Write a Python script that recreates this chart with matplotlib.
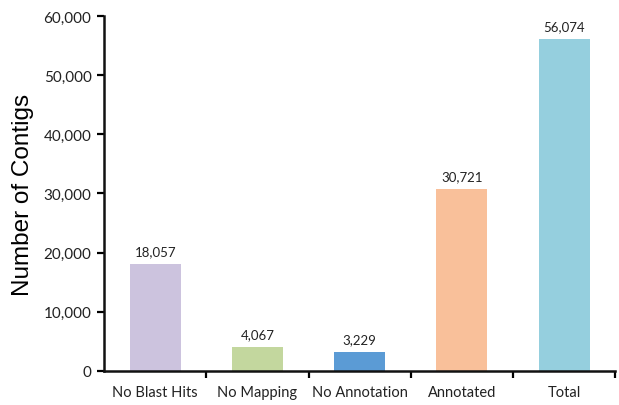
import numpy as np
import matplotlib.pyplot as plt

categories = ['No Blast Hits', 'No Mapping', 'No Annotation', 'Annotated', 'Total']
counts = [18057, 4067, 3229, 30721, 56074]
colors = ['#ccc3de', '#c3d79e', '#5b9bd5', '#f9c09a', '#95cfde']

fig = plt.figure(figsize=(6.19, 4.06), dpi=100)
ax = fig.add_axes([0.168, 0.084, 0.826, 0.874])

x = np.arange(len(categories))
ax.bar(x, counts, width=0.5, color=colors)

for xi, v in zip(x, counts):
    ax.text(xi, v + 1200, f'{v:,}', ha='center', va='bottom',
            fontsize=9.5, family='Lato', color='#222222')

ax.set_xlim(-0.5, len(categories) - 0.5)
ax.set_ylim(0, 60000)
ax.set_yticks(np.arange(0, 60001, 10000))
ax.set_yticklabels([f'{t:,}' for t in range(0, 60001, 10000)],
                   fontsize=11, family='Lato', color='#222222')

# category ticks sit between the bars
ax.set_xticks(np.arange(0.5, len(categories), 1.0))
ax.set_xticklabels([])
ax.set_xticks(x, minor=True)
ax.set_xticklabels(categories, minor=True, fontsize=10.5, family='Lato', color='#222222')
ax.tick_params(axis='x', which='minor', length=0, pad=10)
ax.tick_params(axis='x', which='major', length=5, width=1.6, direction='out')
ax.tick_params(axis='y', length=5, width=1.6, direction='out', pad=4)

ax.set_ylabel('Number of Contigs', fontsize=17.5, family='Liberation Sans', labelpad=7)

for s in ['top', 'right']:
    ax.spines[s].set_visible(False)
for s in ['left', 'bottom']:
    ax.spines[s].set_linewidth(1.8)
    ax.spines[s].set_color('#111111')

fig.savefig('out.png', dpi=100)
